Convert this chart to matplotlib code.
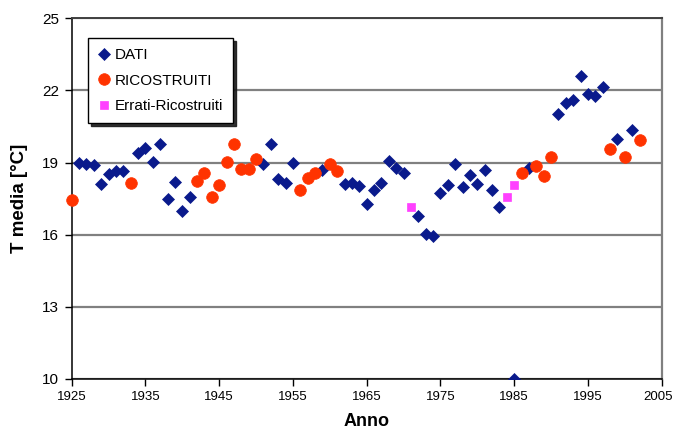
import matplotlib
matplotlib.use("Agg")
import matplotlib.pyplot as plt
import matplotlib.transforms as mtransforms
from matplotlib.font_manager import fontManager

# Measured annual mean temperature
dati_years = [1926, 1927, 1928, 1929, 1930, 1931, 1932,
              1934, 1935, 1936, 1937, 1938, 1939, 1940, 1941,
              1951, 1952, 1953, 1954, 1955, 1959,
              1962, 1963, 1964, 1965, 1966, 1967, 1968, 1969, 1970,
              1972, 1973, 1974, 1975, 1976, 1977, 1978, 1979, 1980, 1981, 1982, 1983,
              1985, 1987,
              1991, 1992, 1993, 1994, 1995, 1996, 1997, 1999, 2001]
dati_values = [19.00, 18.93, 18.88, 18.10, 18.52, 18.63, 18.63,
               19.40, 19.60, 19.03, 19.79, 17.49, 18.21, 16.98, 17.55,
               18.96, 19.77, 18.31, 18.17, 19.00, 18.70,
               18.09, 18.14, 18.04, 17.26, 17.84, 18.17, 19.08, 18.77, 18.56,
               16.79, 16.05, 15.94, 17.75, 18.05, 18.96, 17.97, 18.49, 18.13, 18.68, 17.86, 17.17,
               10.00, 18.79,
               21.00, 21.47, 21.62, 22.58, 21.84, 21.76, 22.14, 19.96, 20.35]

# Reconstructed years
ric_years = [1925, 1933, 1942, 1943, 1944, 1945, 1946, 1947, 1948, 1949, 1950,
             1956, 1957, 1958, 1960, 1961, 1986, 1988, 1989, 1990, 1998, 2000, 2002]
ric_values = [17.46, 18.17, 18.24, 18.56, 17.57, 18.05, 19.04, 19.76, 18.75, 18.75, 19.15,
              17.87, 18.34, 18.56, 18.96, 18.67, 18.55, 18.86, 18.45, 19.24, 19.57, 19.24, 19.94]

# Erroneous values that were reconstructed
err_years = [1971, 1984, 1985]
err_values = [17.14, 17.57, 18.08]

x_ticks = [1925, 1935, 1945, 1955, 1965, 1975, 1985, 1995, 2005]
y_ticks = [10, 13, 16, 19, 22, 25]

names = {f.name for f in fontManager.ttflist}
base = "Liberation Sans" if "Liberation Sans" in names else "DejaVu Sans"
narrow = "Liberation Sans Narrow" if "Liberation Sans Narrow" in names else base
plt.rcParams["font.family"] = [base, "DejaVu Sans"]

fig = plt.figure(figsize=(6.74, 4.33), dpi=100)
ax = fig.add_axes([71.7 / 674, 54 / 433, 590 / 674, 360.7 / 433])

ax.set_xlim(1925, 2005)
ax.set_ylim(10, 25)
ax.set_xticks(x_ticks)
ax.set_yticks(y_ticks)
xsize = 10 if narrow != base else 9.5
ax.set_xticklabels([str(t) for t in x_ticks], family=[narrow, base], fontsize=xsize)
ax.set_yticklabels([str(t) for t in y_ticks], fontsize=11)
ax.tick_params(axis="both", direction="out", length=5, width=1, colors="black", pad=4)

# keep the last year label inside the figure edge
last = ax.get_xticklabels()[-1]
last.set_transform(last.get_transform() +
                   mtransforms.ScaledTranslation(-2.5 / 72, 0, fig.dpi_scale_trans))

ax.yaxis.grid(True, color="#808080", linewidth=1.6)
ax.set_axisbelow(True)

for side in ("left", "bottom"):
    ax.spines[side].set_color("black")
    ax.spines[side].set_linewidth(1.1)
ax.spines["top"].set_color("#404040")
ax.spines["top"].set_linewidth(1.4)
ax.spines["right"].set_color("#808080")
ax.spines["right"].set_linewidth(1.6)

ax.plot(dati_years, dati_values, linestyle="none", marker="D", markersize=5.8,
        color="#0a1a8c", markeredgecolor="#0a1a8c", markeredgewidth=0.5,
        label="DATI", zorder=3)
ax.plot(ric_years, ric_values, linestyle="none", marker="o", markersize=8.4,
        color="#ff3300", markeredgecolor="#ff3300", markeredgewidth=0.5,
        label="RICOSTRUITI", zorder=4, clip_on=False)
ax.plot(err_years, err_values, linestyle="none", marker="s", markersize=6,
        color="#ff40ff", markeredgecolor="#ff40ff", markeredgewidth=0.5,
        label="Errati-Ricostruiti", zorder=5)

leg = ax.legend(loc="upper left", bbox_to_anchor=(0.027, 0.9446), borderaxespad=0,
                fontsize=11, frameon=True, fancybox=False,
                shadow={"ox": 2.2, "oy": -2.2, "color": "#1a1a1a", "alpha": 0.9},
                handlelength=0.8, handletextpad=0.3, labelspacing=0.75,
                borderpad=0.65, markerscale=1.0)
leg.get_frame().set_edgecolor("black")
leg.get_frame().set_linewidth(1.0)

ax.set_ylabel("T media [°C]", fontsize=13.5, fontweight="bold", labelpad=10)
ax.set_xlabel("Anno", fontsize=13, fontweight="bold", labelpad=7)

fig.savefig("out.png", dpi=100)
